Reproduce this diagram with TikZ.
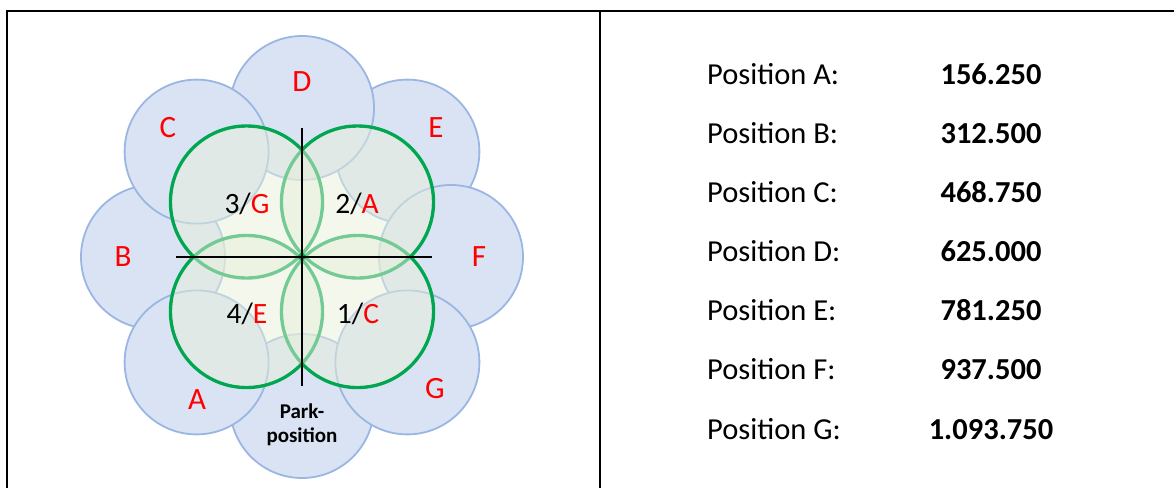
\documentclass[tikz,border=0pt]{standalone}
\usepackage{fontspec}
\setmainfont{Carlito}
\definecolor{bluefill}{HTML}{DAE3F3}
\definecolor{blueline}{HTML}{9AB6E2}
\definecolor{greenline}{HTML}{00A650}
\definecolor{greenfill}{HTML}{E7EFD9}
\definecolor{labred}{HTML}{FF0000}
\tikzset{
  framestyle/.style={line width=2.2pt,black},
  bluedisc/.style={fill=bluefill,draw=blueline,line width=1.8pt},
  greenring/.style={draw=greenline,line width=3.4pt},
  greendisc/.style={fill=greenfill,fill opacity=0.5},
  crossline/.style={line width=2.2pt,black},
  redlab/.style={text=labred,font=\fontsize{31}{36}\selectfont,inner sep=0pt},
  quadlab/.style={font=\fontsize{29.5}{35}\selectfont,inner sep=0pt,anchor=base},
  parklab/.style={font=\fontsize{21}{25}\selectfont\bfseries,inner sep=0pt,align=center},
  poslab/.style={font=\fontsize{30.5}{36}\selectfont,inner sep=0pt,anchor=base west},
  posval/.style={font=\fontsize{30.5}{36}\selectfont\bfseries,inner sep=0pt,anchor=base},
}
\begin{document}
\begin{tikzpicture}[x=1pt,y=-1pt]
\useasboundingbox (0,0) rectangle (1174,488);
% frame
\draw[framestyle] (7,488) -- (7,11) -- (1174,11);
\draw[framestyle] (600,11) -- (600,488);
% blue circles, stacked from bottom to top: E, Park, B, D, F, A, C, G
\def\br{72}
\foreach \p in {(407.4,151.6),(302,406),(153,257),(302,108),(451,257),(196.6,362.4),(196.6,151.6),(407.4,362.4)}
  \filldraw[bluedisc] \p circle (\br);
% green circles
\foreach \p in {(246.5,202),(357.5,202),(246.5,311.5),(357.5,311.5)}
  \draw[greenring] \p circle (76);
\foreach \p in {(246.5,202),(357.5,202),(246.5,311.5),(357.5,311.5)}
  \fill[greendisc] \p circle (74.3);
% cross
\coordinate (vt) at (302,128);
\coordinate (vb) at (302,386);
\coordinate (hl) at (176,257);
\coordinate (hr) at (432,257);
\draw[crossline] (vt) -- (vb);
\draw[crossline] (hl) -- (hr);
% outer labels
\node[redlab] (lD) at (302,82) {D};
\node[redlab] (lE) at (436,128) {E};
\node[redlab] (lF) at (479,257) {F};
\node[redlab] (lG) at (435,389) {G};
\node[redlab] (lA) at (197,400) {A};
\node[redlab] (lB) at (123,257) {B};
\node[redlab] (lC) at (168,128) {C};
\node[parklab] (park) at (302,425) {Park-\\[-1pt]position};
% quadrant labels
\node[quadlab] (q3) at (247,213) {3/\textcolor{labred}{G}};
\node[quadlab] (q2) at (357,213) {2/\textcolor{labred}{A}};
\node[quadlab] (q4) at (247,323) {4/\textcolor{labred}{E}};
\node[quadlab] (q1) at (358,323) {1/\textcolor{labred}{C}};
% table
\node[poslab] (pA) at (707,84) {Position A:};
\node[poslab] (pB) at (707,143.2) {Position B:};
\node[poslab] (pC) at (707,202.3) {Position C:};
\node[poslab] (pD) at (707,261.5) {Position D:};
\node[poslab] (pE) at (707,320.7) {Position E:};
\node[poslab] (pF) at (707,379.8) {Position F:};
\node[poslab] (pG) at (707,439) {Position G:};
\node[posval] (vA) at (991,84) {156.250};
\node[posval] (vB) at (991,143.2) {312.500};
\node[posval] (vC) at (991,202.3) {468.750};
\node[posval] (vD) at (991,261.5) {625.000};
\node[posval] (vE) at (991,320.7) {781.250};
\node[posval] (vF) at (991,379.8) {937.500};
\node[posval] (vG) at (991,439) {1.093.750};
\end{tikzpicture}
\end{document}
